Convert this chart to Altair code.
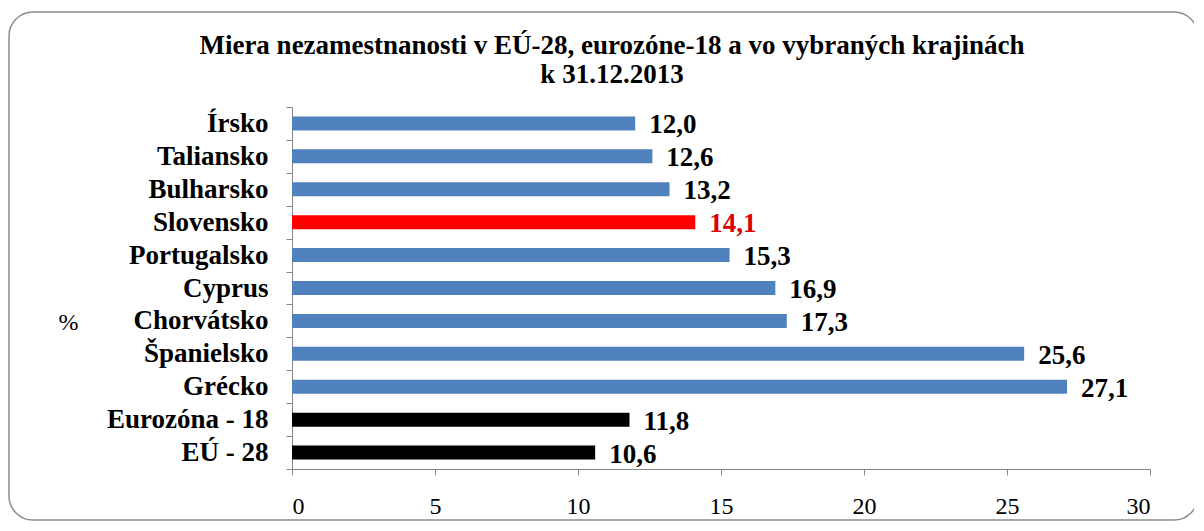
import altair as alt
import pandas as pd

categories = ["Írsko", "Taliansko", "Bulharsko", "Slovensko", "Portugalsko", "Cyprus",
              "Chorvátsko", "Španielsko", "Grécko", "Eurozóna - 18", "EÚ - 28"]
values = [12.0, 12.6, 13.2, 14.1, 15.3, 16.9, 17.3, 25.6, 27.1, 11.8, 10.6]
groups = ["krajina", "krajina", "krajina", "Slovensko", "krajina", "krajina",
          "krajina", "krajina", "krajina", "priemer", "priemer"]
x_ticks = [0, 5, 10, 15, 20, 25, 30]
title_lines = ["Miera nezamestnanosti v EÚ-28, eurozóne-18 a vo vybraných krajinách",
               "k 31.12.2013"]

df = pd.DataFrame({"cat": categories, "val": values, "grp": groups})
df["label"] = df["val"].map(lambda v: f"{v:.1f}".replace(".", ","))

FONT = "Liberation Serif"
GREY = "#868686"

y_enc = alt.Y(
    "cat:N", sort=categories,
    scale=alt.Scale(paddingInner=0, paddingOuter=0),
    axis=alt.Axis(
        title="%", titleAngle=0, titleX=-224, titleY=215, titleAlign="center",
        titleBaseline="middle", titleFont=FONT, titleFontSize=24,
        titleFontWeight="normal", titleColor="black",
        labelFont=FONT, labelFontSize=27, labelFontWeight="bold", labelColor="black",
        labelPadding=18, tickSize=6, tickColor=GREY, domainColor=GREY,
        tickBand="extent", grid=False, labelLimit=400,
    ),
)

x_enc = alt.X(
    "val:Q",
    scale=alt.Scale(domain=[0, 30], nice=False),
    axis=alt.Axis(
        values=x_ticks, title=None, labelFont=FONT, labelFontSize=24,
        labelColor="black", tickSize=6, tickColor=GREY, domainColor=GREY,
        labelPadding=19, grid=False,
    ),
)

base = alt.Chart(df)

bars = base.mark_bar(size=14).encode(
    x=x_enc,
    y=y_enc,
    color=alt.Color(
        "grp:N",
        scale=alt.Scale(domain=["krajina", "Slovensko", "priemer"],
                        range=["#4F81BD", "#FF0000", "#000000"]),
        legend=None,
    ),
)

labels = base.mark_text(
    align="left", baseline="middle", dx=14, dy=2, font=FONT, fontSize=27,
    fontWeight="bold",
).encode(
    x=alt.X("val:Q"),
    y=alt.Y("cat:N", sort=categories),
    text="label:N",
    color=alt.condition("datum.grp == 'Slovensko'", alt.value("#E00000"), alt.value("black")),
)

border = alt.Chart(alt.Data(values=[{}])).mark_rect(
    cornerRadius=24, fillOpacity=0, stroke="#8c8c8c", strokeWidth=1.5,
).encode(
    x=alt.value(-283), x2=alt.value(906), y=alt.value(-95), y2=alt.value(413),
)

chart = alt.layer(border, bars, labels).properties(
    width=858,
    height=362,
    title=alt.TitleParams(
        text=title_lines, font=FONT, fontSize=27, fontWeight="bold",
        anchor="middle", frame="group", dx=-109, offset=-78, lineHeight=29,
        color="black",
    ),
    padding={"left": 284, "top": 99, "right": 44, "bottom": 52},
    autosize=alt.AutoSizeParams(type="none"),
).configure_view(stroke=None)

chart.save("out.html", embed_options={"renderer": "svg", "actions": False})
